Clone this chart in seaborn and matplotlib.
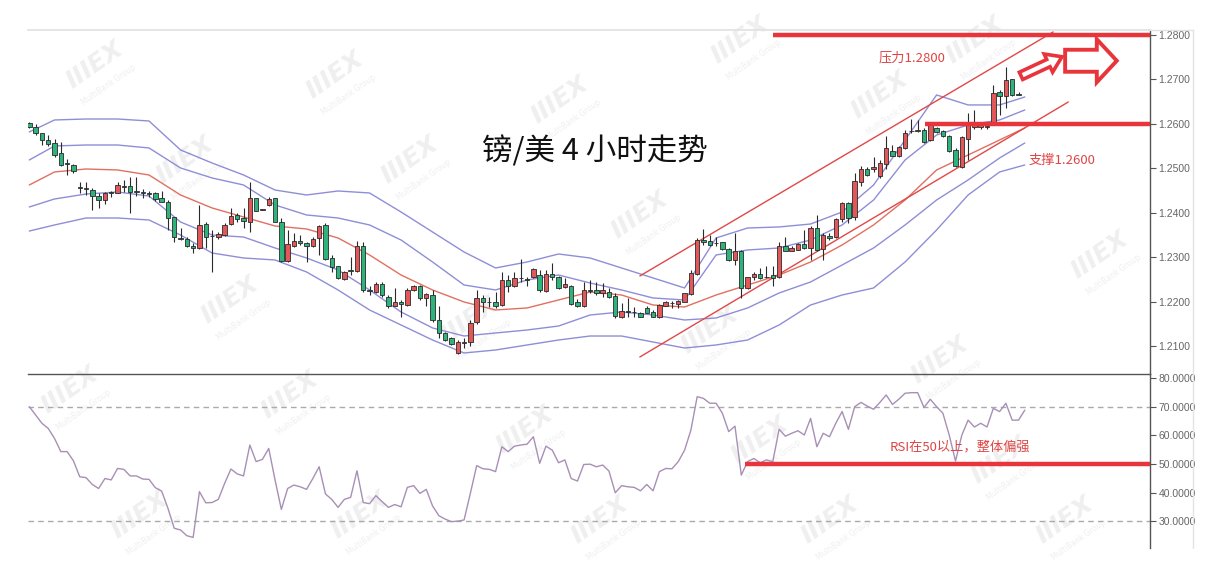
import numpy as np
import matplotlib
matplotlib.use("Agg")
import matplotlib.pyplot as plt
import seaborn as sns
from matplotlib.patches import Polygon
from matplotlib.lines import Line2D
from matplotlib.transforms import IdentityTransform

# ---------------- data (GBP/USD 4H) ----------------
opens = [1.2601,1.2592,1.2579,1.2564,1.2556,1.2534,1.2512,1.2508,1.2457,1.2455,
         1.2451,1.2438,1.2429,1.2447,1.2445,1.2460,1.2459,1.2448,1.2446,1.2444,
         1.2444,1.2433,1.2425,1.2390,1.2344,1.2340,1.2325,1.2320,1.2375,1.2348,
         1.2345,1.2350,1.2374,1.2395,1.2388,1.2380,1.2434,1.2407,1.2418,1.2433,
         1.2380,1.2291,1.2325,1.2337,1.2332,1.2324,1.2343,1.2372,1.2298,1.2279,
         1.2251,1.2270,1.2269,1.2324,1.2225,1.2221,1.2239,1.2211,1.2191,1.2199,
         1.2192,1.2226,1.2234,1.2209,1.2215,1.2159,1.2130,1.2118,1.2084,1.2107,
         1.2108,1.2153,1.2207,1.2200,1.2199,1.2192,1.2249,1.2234,1.2253,1.2250,
         1.2255,1.2260,1.2224,1.2262,1.2255,1.2232,1.2235,1.2198,1.2190,1.2225,
         1.2225,1.2219,1.2222,1.2213,1.2166,1.2178,1.2177,1.2175,1.2186,1.2177,
         1.2165,1.2190,1.2196,1.2194,1.2200,1.2217,1.2262,1.2339,1.2336,1.2332,
         1.2333,1.2318,1.2294,1.2313,1.2230,1.2255,1.2262,1.2256,1.2260,1.2255,
         1.2324,1.2314,1.2316,1.2330,1.2320,1.2365,1.2318,1.2348,1.2345,1.2385,
         1.2421,1.2390,1.2468,1.2498,1.2498,1.2483,1.2510,1.2540,1.2528,1.2545,
         1.2583,1.2585,1.2586,1.2564,1.2590,1.2584,1.2573,1.2541,1.2502,1.2567,
         1.2592,1.2592,1.2594,1.2601,1.2672,1.2663,1.2700,1.2667,1.2718]
highs = [1.2604,1.2600,1.2580,1.2575,1.2565,1.2560,1.2520,1.2510,1.2468,1.2470,
         1.2455,1.2444,1.2447,1.2449,1.2470,1.2474,1.2481,1.2481,1.2453,1.2449,
         1.2447,1.2449,1.2429,1.2391,1.2365,1.2346,1.2331,1.2417,1.2378,1.2361,
         1.2357,1.2376,1.2410,1.2399,1.2410,1.2468,1.2434,1.2409,1.2436,1.2434,
         1.2387,1.2361,1.2354,1.2350,1.2335,1.2346,1.2372,1.2376,1.2305,1.2281,
         1.2269,1.2301,1.2336,1.2335,1.2234,1.2244,1.2244,1.2215,1.2230,1.2204,
         1.2230,1.2238,1.2238,1.2219,1.2226,1.2190,1.2132,1.2121,1.2114,1.2118,
         1.2159,1.2226,1.2215,1.2211,1.2222,1.2267,1.2260,1.2267,1.2295,1.2256,
         1.2275,1.2271,1.2271,1.2286,1.2258,1.2253,1.2237,1.2205,1.2245,1.2249,
         1.2245,1.2241,1.2230,1.2219,1.2196,1.2207,1.2187,1.2177,1.2190,1.2181,
         1.2195,1.2202,1.2202,1.2204,1.2220,1.2271,1.2343,1.2363,1.2350,1.2346,
         1.2335,1.2320,1.2354,1.2315,1.2256,1.2267,1.2275,1.2280,1.2280,1.2335,
         1.2345,1.2324,1.2331,1.2361,1.2369,1.2395,1.2354,1.2354,1.2387,1.2425,
         1.2425,1.2489,1.2504,1.2502,1.2526,1.2519,1.2572,1.2553,1.2550,1.2586,
         1.2612,1.2609,1.2590,1.2602,1.2594,1.2586,1.2575,1.2545,1.2573,1.2624,
         1.2631,1.2603,1.2603,1.2687,1.2676,1.2729,1.2702,1.2672,1.2721]
lows = [1.2590,1.2575,1.2553,1.2550,1.2526,1.2505,1.2485,1.2489,1.2445,1.2440,
        1.2406,1.2410,1.2420,1.2435,1.2444,1.2447,1.2400,1.2438,1.2433,1.2435,
        1.2427,1.2423,1.2361,1.2335,1.2339,1.2322,1.2310,1.2318,1.2320,1.2267,
        1.2340,1.2348,1.2373,1.2378,1.2366,1.2357,1.2403,1.2406,1.2414,1.2378,
        1.2289,1.2289,1.2322,1.2328,1.2288,1.2322,1.2305,1.2294,1.2267,1.2251,
        1.2249,1.2260,1.2267,1.2221,1.2215,1.2219,1.2211,1.2186,1.2189,1.2166,
        1.2190,1.2224,1.2204,1.2191,1.2155,1.2118,1.2112,1.2102,1.2082,1.2095,
        1.2099,1.2150,1.2177,1.2187,1.2185,1.2190,1.2222,1.2232,1.2245,1.2235,
        1.2253,1.2222,1.2222,1.2249,1.2228,1.2230,1.2193,1.2187,1.2187,1.2219,
        1.2215,1.2211,1.2207,1.2163,1.2163,1.2166,1.2165,1.2165,1.2174,1.2165,
        1.2164,1.2189,1.2185,1.2185,1.2198,1.2215,1.2260,1.2327,1.2325,1.2324,
        1.2316,1.2292,1.2283,1.2207,1.2228,1.2249,1.2251,1.2252,1.2235,1.2253,
        1.2313,1.2313,1.2315,1.2318,1.2294,1.2313,1.2294,1.2339,1.2343,1.2378,
        1.2376,1.2384,1.2459,1.2483,1.2492,1.2478,1.2498,1.2528,1.2526,1.2543,
        1.2580,1.2582,1.2556,1.2562,1.2580,1.2571,1.2537,1.2503,1.2500,1.2519,
        1.2588,1.2588,1.2588,1.2601,1.2620,1.2635,1.2663,1.2665,1.2703]
closes = [1.2592,1.2580,1.2564,1.2555,1.2530,1.2508,1.2509,1.2493,1.2456,1.2454,
          1.2438,1.2429,1.2445,1.2444,1.2462,1.2457,1.2447,1.2447,1.2445,1.2443,
          1.2430,1.2425,1.2388,1.2346,1.2340,1.2324,1.2320,1.2372,1.2346,1.2347,
          1.2352,1.2372,1.2393,1.2385,1.2382,1.2434,1.2404,1.2408,1.2431,1.2380,
          1.2291,1.2329,1.2337,1.2331,1.2324,1.2341,1.2369,1.2296,1.2277,1.2253,
          1.2266,1.2268,1.2326,1.2226,1.2224,1.2239,1.2215,1.2190,1.2200,1.2194,
          1.2226,1.2234,1.2208,1.2216,1.2159,1.2129,1.2114,1.2105,1.2108,1.2108,
          1.2151,1.2207,1.2198,1.2199,1.2190,1.2249,1.2235,1.2252,1.2252,1.2249,
          1.2273,1.2225,1.2262,1.2255,1.2230,1.2239,1.2195,1.2190,1.2225,1.2224,
          1.2219,1.2226,1.2211,1.2168,1.2178,1.2177,1.2176,1.2166,1.2175,1.2166,
          1.2193,1.2198,1.2197,1.2201,1.2219,1.2265,1.2339,1.2333,1.2327,1.2331,
          1.2318,1.2294,1.2313,1.2230,1.2255,1.2262,1.2253,1.2255,1.2253,1.2324,
          1.2314,1.2320,1.2330,1.2320,1.2365,1.2315,1.2350,1.2343,1.2385,1.2421,
          1.2387,1.2472,1.2498,1.2485,1.2502,1.2511,1.2545,1.2528,1.2547,1.2580,
          1.2584,1.2586,1.2560,1.2598,1.2582,1.2573,1.2540,1.2505,1.2570,1.2605,
          1.2600,1.2598,1.2595,1.2669,1.2663,1.2699,1.2665,1.2666,1.2705]

rsi = [70.0,67.1,64.2,62.4,58.9,54.3,54.3,51.1,45.5,45.2,
       42.8,41.4,44.9,44.4,48.4,48.1,45.8,45.8,44.7,44.6,
       41.7,40.5,34.5,27.5,26.9,24.9,24.3,40.3,36.4,36.5,
       37.6,43.2,48.2,46.5,45.8,56.6,50.8,51.6,55.4,44.4,
       34.1,41.4,42.6,42.0,41.1,44.9,49.0,39.5,37.6,34.8,
       37.6,38.3,47.6,36.5,36.1,38.9,36.8,34.8,35.8,35.0,
       41.8,42.4,39.7,41.1,35.3,31.9,30.7,29.8,30.0,30.4,
       39.7,49.4,48.3,48.1,47.3,56.0,54.3,56.2,56.6,56.9,
       59.5,50.2,56.2,54.8,50.4,51.4,44.9,44.0,49.8,49.9,
       49.0,49.6,47.5,39.9,42.4,42.0,41.8,40.6,42.8,40.6,
       47.3,48.4,48.3,50.8,54.8,61.8,73.5,72.9,71.2,71.2,
       67.7,61.3,63.2,46.1,50.8,51.9,50.4,51.4,50.8,62.1,
       59.7,60.7,61.6,60.1,65.9,56.0,60.7,59.5,64.2,68.3,
       62.1,70.0,71.5,70.2,69.1,71.5,74.1,70.8,72.6,74.7,
       74.9,74.9,69.7,72.6,70.0,67.7,60.1,51.0,60.0,65.3,
       62.9,64.2,62.9,69.4,68.3,71.2,65.3,65.3,68.8]

# band lines sampled at these candle numbers
band_idx = [1] + list(range(5, 160, 5)) + [159]
band_upper2 = [1.25817,1.26087,1.26109,1.26109,1.26064,1.25412,1.25119,1.24849,1.24511,1.24399,
               1.24489,1.24444,1.24016,1.23566,1.23116,1.22756,1.22891,1.23071,1.22981,1.22756,
               1.22531,1.22306,1.23431,1.23656,1.23679,1.23746,1.24016,1.24624,1.25637,1.26650,
               1.26425,1.26425,1.26605]
band_upper1 = [1.25187,1.25502,1.25524,1.25524,1.25457,1.25007,1.24782,1.24624,1.24174,1.23949,
               1.23881,1.23724,1.23386,1.22891,1.22373,1.22261,1.22486,1.22598,1.22418,1.22261,
               1.22081,1.22036,1.23049,1.23161,1.23206,1.23386,1.23724,1.24286,1.25187,1.25749,
               1.25974,1.26087,1.26312]
band_mid = [1.24624,1.24917,1.24984,1.24962,1.24849,1.24399,1.24107,1.23904,1.23701,1.23634,
            1.23431,1.23049,1.22598,1.22261,1.21991,1.21811,1.21856,1.22036,1.22216,1.22148,
            1.21923,1.21878,1.22148,1.22373,1.22598,1.22891,1.23273,1.23724,1.24286,1.24962,
            1.25299,1.25637,1.25907]
band_lower1 = [1.24129,1.24309,1.24421,1.24466,1.24376,1.23791,1.23498,1.23453,1.23206,1.22981,
               1.22711,1.22261,1.21766,1.21406,1.21225,1.21293,1.21360,1.21450,1.21698,1.21766,
               1.21698,1.21586,1.21631,1.21856,1.22193,1.22441,1.22823,1.23206,1.23724,1.24286,
               1.24737,1.25232,1.25569]
band_lower2 = [1.23588,1.23724,1.23881,1.23881,1.23836,1.23498,1.23093,1.22981,1.22936,1.22666,
               1.22261,1.21811,1.21473,1.21135,1.20843,1.20910,1.21023,1.21135,1.21225,1.21225,
               1.21090,1.20955,1.21023,1.21135,1.21473,1.21923,1.22148,1.22306,1.22891,1.23611,
               1.24399,1.24917,1.25074]

# channel trend lines (candle number, price)
chan_upper_x = [97.9, 163.5]
chan_upper_y = [1.22576, 1.28068]
chan_lower_x = [97.9, 165.9]
chan_lower_y = [1.20753, 1.26492]

resistance = 1.2800
resistance_from = 119.0
support = 1.2600
support_from = 143.2
rsi_level = 50
rsi_level_from = 114.6

price_ticks = [1.21, 1.22, 1.23, 1.24, 1.25, 1.26, 1.27, 1.28]
rsi_ticks = [30, 40, 50, 60, 70, 80]
rsi_dashed = [30, 70]

title_text = "镑/美 4 小时走势"
res_text = "压力1.2800"
sup_text = "支撑1.2600"
rsi_text = "RSI在50以上，整体偏强"

# ---------------- style ----------------
sns.set_theme(style="white")
plt.rcParams["font.family"] = ["Noto Sans CJK SC", "DejaVu Sans"]

RED_UP = "#e25858"
GREEN_DN = "#2db37b"
EDGE = "#2a2a2a"
BAND = "#8e8ed8"
MID = "#e07060"
CHAN = "#e04848"
THICK = "#e8353b"
TXT_RED = "#e04545"

W, H = 1216, 567
fig = plt.figure(figsize=(W / 100, H / 100), dpi=100)
fig.patch.set_facecolor("white")
L, R = 28, 1150
ax = fig.add_axes([L / W, 1 - 374 / H, (R - L) / W, (374 - 30) / H])
ax2 = fig.add_axes([L / W, 1 - 548 / H, (R - L) / W, (548 - 374) / H], sharex=ax)
for a in (ax, ax2):
    a.set_facecolor("none")

# watermarks (very faint), kept inside the canvas
wm_pos = [(95, 65), (335, 75), (560, 100), (740, 40), (975, 40), (185, 160), (410, 160),
          (640, 215), (880, 95), (1100, 255), (230, 300), (470, 320), (710, 330), (940, 360),
          (70, 390), (290, 395), (525, 430), (760, 440), (1000, 460), (140, 515), (360, 515),
          (600, 520), (830, 520), (1065, 520)]
for (px, py) in wm_pos:
    fig.text(px / W, 1 - py / H, "IIIEX", fontsize=18, fontweight="bold", style="italic",
             color="#efefef", rotation=35, ha="center", va="center", zorder=-5,
             family=["DejaVu Sans"])
    fig.text((px + 14) / W, 1 - (py + 20) / H, "MultiBank Group", fontsize=5.5,
             color="#efefef", rotation=35, ha="center", va="center", zorder=-5,
             family=["DejaVu Sans"])

idx = np.arange(1, len(opens) + 1)
o = np.array(opens); c = np.array(closes); h = np.array(highs); l = np.array(lows)

# bands
for vals, col in [(band_upper2, BAND), (band_upper1, BAND), (band_lower1, BAND),
                  (band_lower2, BAND), (band_mid, MID)]:
    sns.lineplot(x=band_idx, y=vals, ax=ax, color=col, lw=1.0, zorder=2)

# candles
ax.vlines(idx, l, h, color=EDGE, lw=0.8, zorder=3)
up = c >= o
colors = np.where(up, RED_UP, GREEN_DN)
bottoms = np.minimum(o, c)
heights = np.maximum(np.abs(c - o), 0.00002)
ax.bar(idx, heights, bottom=bottoms, width=0.7, color=colors, edgecolor=EDGE,
       linewidth=0.6, zorder=4)

# channel lines
ax.plot(chan_upper_x, chan_upper_y, color=CHAN, lw=1.0, zorder=2)
ax.plot(chan_lower_x, chan_lower_y, color=CHAN, lw=1.0, zorder=2)

xmin, xmax = 0.79, 178.87
ax.set_xlim(xmin, xmax)
ax.set_ylim(1.20370, 1.28112)

ax.hlines(resistance, resistance_from, xmax, color=THICK, lw=3.2, zorder=6)
ax.hlines(support, support_from, xmax, color=THICK, lw=3.2, zorder=6)

ax.text(141.1, 1.27482, res_text, color=TXT_RED, fontsize=9.5, ha="center", va="center")
ax.text(164.9, 1.25187, sup_text, color=TXT_RED, fontsize=9.5, ha="center", va="center")
ax.text(90.8, 1.25367, title_text, color="#111111", fontsize=22, ha="center", va="center")

# RSI
sns.lineplot(x=idx, y=rsi, ax=ax2, color="#a88fb6", lw=1.0, zorder=3)
for lv in rsi_dashed:
    ax2.axhline(lv, color="#aaaaaa", lw=1.0, ls=(0, (4, 3)), zorder=1)
ax2.hlines(rsi_level, rsi_level_from, xmax, color=THICK, lw=3.2, zorder=5)
ax2.text(148.7, 55.9, rsi_text, color=TXT_RED, fontsize=9.5, ha="center", va="center")
ax2.set_ylim(20.6, 81.43)

# axes styling
for a, ticks in ((ax, price_ticks), (ax2, rsi_ticks)):
    a.yaxis.tick_right()
    a.set_yticks(ticks)
    a.set_yticklabels([f"{t:.4f}" for t in ticks])
    a.tick_params(axis="y", right=True, left=False, length=4, width=0.8, color="#555555",
                  labelsize=7.5, labelcolor="#666666", pad=2)
    a.tick_params(axis="x", bottom=False, labelbottom=False)
    for lbl in a.get_yticklabels():
        lbl.set_family(["Liberation Sans", "DejaVu Sans"])
    a.spines["left"].set_visible(False)
    a.spines["right"].set_color("#555555")
    a.spines["right"].set_linewidth(1.0)
    a.grid(False)
ax.spines["top"].set_color("#e2e2e2")
ax.spines["bottom"].set_color("#555555")
ax.spines["bottom"].set_linewidth(1.0)
ax2.spines["top"].set_visible(False)
ax2.spines["bottom"].set_visible(False)

fig.add_artist(Line2D([1193 / W, 1193 / W], [1 - 548 / H, 1 - 30 / H], color="#e4e4e4", lw=1.0))
fig.add_artist(Line2D([1150 / W, 1193 / W], [1 - 30 / H, 1 - 30 / H], color="#e2e2e2", lw=1.0))

# hollow arrows (anchored to data positions)
arrow_specs = [
    # tail (candle, price), tip (candle, price), body half-width px, head half-width px, head length px, lw
    ((158.4, 1.2708), (164.9, 1.2751), 4.0, 10.0, 15.0, 2.6),
    ((165.4, 1.2742), (173.6, 1.2742), 11.0, 21.5, 20.0, 2.8),
]
for tail, tip, bw, hw, hl, lw in arrow_specs:
    p0 = ax.transData.transform(tail)
    p1 = ax.transData.transform(tip)
    d = p1 - p0
    u = d / np.hypot(*d)
    nv = np.array([-u[1], u[0]])
    neck = p1 - u * hl
    pts = [p0 + nv * bw, neck + nv * bw, neck + nv * hw, p1,
           neck - nv * hw, neck - nv * bw, p0 - nv * bw]
    poly = Polygon(pts, closed=True, facecolor="white", edgecolor=THICK, lw=lw,
                   transform=IdentityTransform(), zorder=10, joinstyle="miter")
    fig.add_artist(poly)

fig.savefig("out.png", dpi=100, facecolor="white")
